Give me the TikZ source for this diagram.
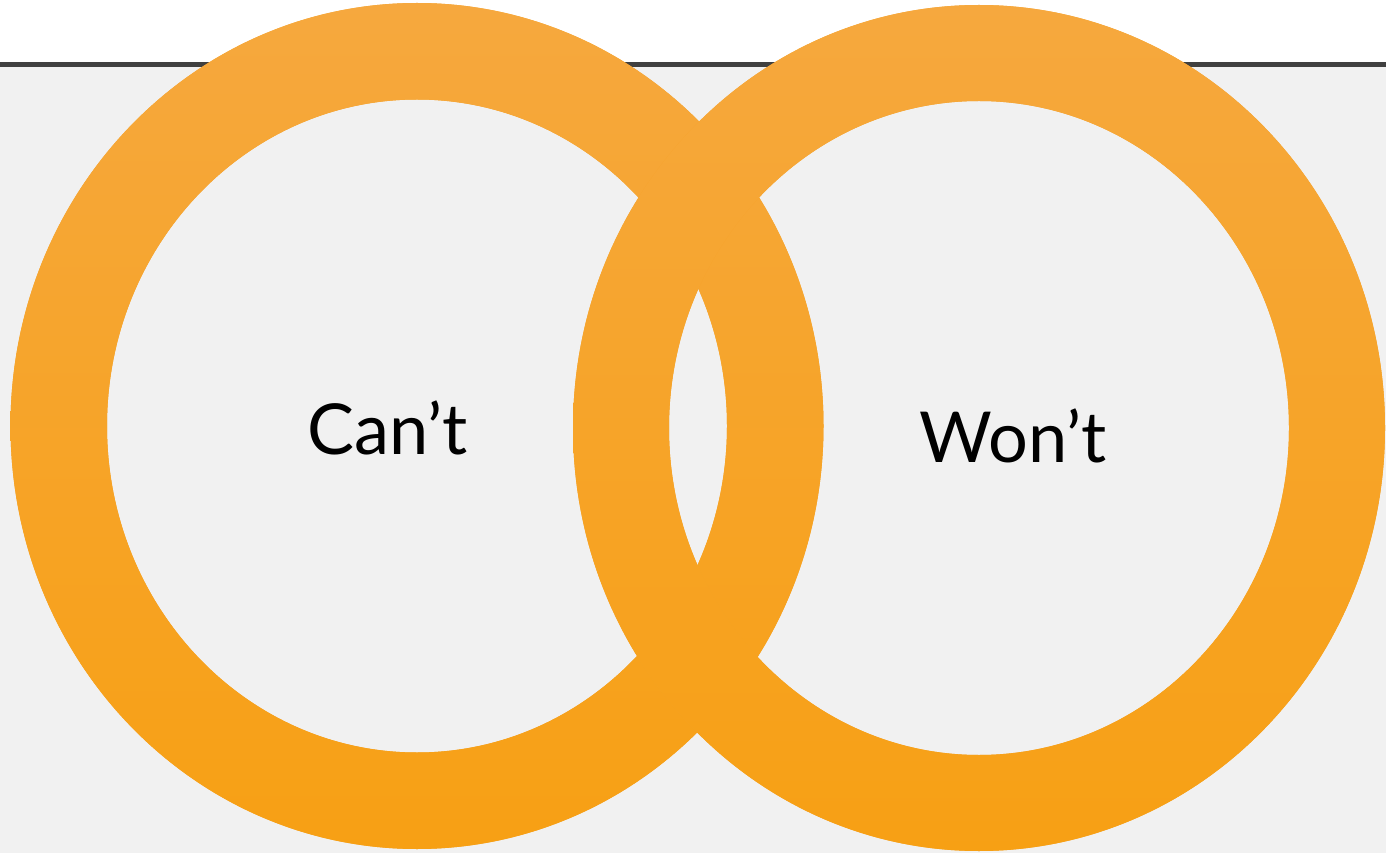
\documentclass[tikz,border=0pt]{standalone}
\usepackage{fontspec}
\setmainfont{Lato}
\usepackage{tikz}
\usetikzlibrary{positioning, calc}

\definecolor{ringtop}{HTML}{F6A83E}
\definecolor{ringbot}{HTML}{F7A014}
\definecolor{panelgray}{HTML}{F1F1F1}
\definecolor{rulegray}{HTML}{404040}

\begin{document}
\begin{tikzpicture}[x=0.02cm, y=0.02cm,
    ring/.style={even odd rule,
                 preaction={fill=ringtop!50!ringbot, even odd rule},
                 top color=ringtop, bottom color=ringbot},
    label/.style={font=\fontsize{40}{48}\selectfont, text=black, inner sep=0pt}]
    \useasboundingbox (0,0) rectangle (1386,853);

    % Draw background and top rule
    \fill[white] (0,0) rectangle (1386,853);
    \fill[panelgray] (0,0) rectangle (1386,788);
    \draw[rulegray, line width=3.4pt] (0,788.5) -- (1386,788.5);

    % Draw left ring
    \shade[ring] (417,427) ellipse [x radius=406.5, y radius=423]
                 (417,427) ellipse [x radius=310, y radius=326.5];

    % Draw right ring
    \shade[ring] (979,425) ellipse [x radius=406, y radius=423]
                 (979,425) ellipse [x radius=310, y radius=327];

    % Add labels
    \node[label] (cant) at (388,425) {Can’t};
    \node[label] (wont) at (1013,417) {Won’t};
\end{tikzpicture}
\end{document}
